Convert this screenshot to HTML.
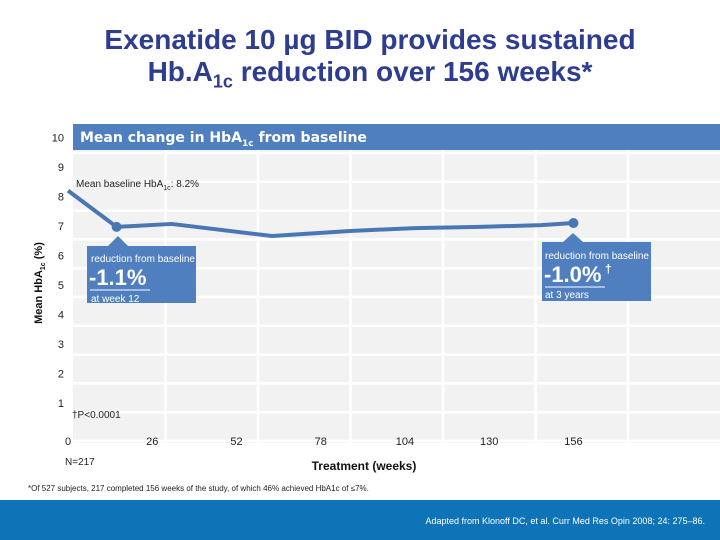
<!DOCTYPE html>
<html><head><meta charset="utf-8"><style>
body{margin:0;width:720px;height:540px;overflow:hidden;background:#fff;font-family:"Liberation Sans",sans-serif;position:relative}
.abs{position:absolute}
</style></head><body>
<div class="abs" style="left:0;top:24px;width:740px;text-align:center;font-size:28px;font-weight:bold;color:#2e3d8f;line-height:32px">Exenatide 10 µg BID provides sustained<br>Hb.A<sub style="font-size:18px">1c</sub> reduction over 156 weeks*</div>
<svg class="abs" style="left:0;top:0" width="720" height="540">
<g id="grid"></g>
<rect x="73" y="124" width="647" height="26" fill="#4f7fbf"/>
<text x="80" y="142" font-size="14" font-weight="bold" fill="#fff" font-family="DejaVu Sans,sans-serif">Mean change in HbA<tspan font-size="9" dy="4">1c</tspan><tspan dy="-4"> from baseline</tspan></text>
<g id="yticks"></g><g id="xticks"></g>
<polyline id="line" fill="none" stroke="#4a77b4" stroke-width="4" stroke-linejoin="round"/>
<g id="dots"></g>
<text x="76" y="187" font-size="10" fill="#222">Mean baseline HbA<tspan font-size="7" dy="3">1c</tspan><tspan dy="-3">: 8.2%</tspan></text>
<g>
<polygon points="87,246 108,246 118,236 128,246 196,246 196,303 87,303" fill="#4f7fbf"/>
<text x="91" y="262" font-size="10" fill="#fff">reduction from baseline</text>
<text x="89" y="285" font-size="22" font-weight="bold" fill="#fff">-1.1%</text>
<line x1="90" y1="290" x2="150" y2="290" stroke="#fff"/>
<text x="91" y="302" font-size="10" fill="#fff">at week 12</text>
</g>
<g>
<polygon points="542,242 563,242 573,233 583,242 651,242 651,301 542,301" fill="#4f7fbf"/>
<text x="545" y="259" font-size="10" fill="#fff">reduction from baseline</text>
<text x="544" y="282" font-size="22" font-weight="bold" fill="#fff">-1.0%</text>
<text x="605" y="273" font-size="12" font-weight="bold" fill="#fff">†</text>
<line x1="545" y1="287" x2="605" y2="287" stroke="#fff"/>
<text x="545" y="298" font-size="10" fill="#fff">at 3 years</text>
</g>
<text x="72" y="418" font-size="10" fill="#222">†P&lt;0.0001</text>
<text x="65" y="465" font-size="10" fill="#222">N=217</text>
<text x="364" y="470" font-size="12" font-weight="bold" text-anchor="middle" fill="#111">Treatment (weeks)</text>
<text transform="translate(42,283) rotate(-90)" font-size="11" font-weight="bold" text-anchor="middle" fill="#111">Mean HbA<tspan font-size="7" dy="3">1c</tspan><tspan dy="-3"> (%)</tspan></text>
<text x="28" y="491" font-size="8" fill="#222">*Of 527 subjects, 217 completed 156 weeks of the study, of which 46% achieved HbA1c of ≤7%.</text>
<rect x="0" y="500" width="720" height="40" fill="#0e74b7"/>
<text x="705" y="524" font-size="9" fill="#fff" text-anchor="end">Adapted from Klonoff DC, et al. Curr Med Res Opin 2008; 24: 275–86.</text>
</svg>
<script>
const weeks=[0,15,32,63,87,107,127,146,156];
const values=[8.2,6.97,7.07,6.66,6.83,6.93,6.97,7.03,7.1];
const yTicks=[10,9,8,7,6,5,4,3,2,1];
const xTicks=[0,26,52,78,104,130,156];
const markerWeeks=[15,156];
const xs=w=>68+w*3.24, ys=v=>226-(v-7)*29.5;
const NS="http://www.w3.org/2000/svg";
function mk(t,a,p){const e=document.createElementNS(NS,t);for(const k in a)e.setAttribute(k,a[k]);p.appendChild(e);return e;}
const grid=document.getElementById('grid');
mk('rect',{x:73,y:150,width:647,height:293,fill:'#f2f2f2'},grid);
for(let i=1;i<7;i++){const x=73+i*92.5;const l=mk('line',{x1:x,y1:150,x2:x,y2:443,stroke:'#fff','stroke-width':2.5},grid);

}
for(let i=0;i<11;i++){const y=153+i*28.8;if(y>443)break;const l=mk('line',{x1:73,y1:y,x2:720,y2:y,stroke:'#fff','stroke-width':2.5},grid);

}
const yt=document.getElementById('yticks');
yTicks.forEach(v=>{const t=mk('text',{x:64,y:ys(v)+4,'font-size':11,'text-anchor':'end',fill:'#222'},yt);t.textContent=v;

});
const xt=document.getElementById('xticks');
xTicks.forEach(w=>{const t=mk('text',{x:xs(w),y:445,'font-size':11,'text-anchor':'middle',fill:'#222'},xt);t.textContent=w;

});
document.getElementById('line').setAttribute('points',weeks.map((w,i)=>xs(w)+','+ys(values[i])).join(' '));
const dots=document.getElementById('dots');
markerWeeks.forEach(w=>{const i=weeks.indexOf(w);const c=mk('circle',{cx:xs(w),cy:ys(values[i]),r:5,fill:'#4a77b4'},dots);

});
</script>
</body></html>
